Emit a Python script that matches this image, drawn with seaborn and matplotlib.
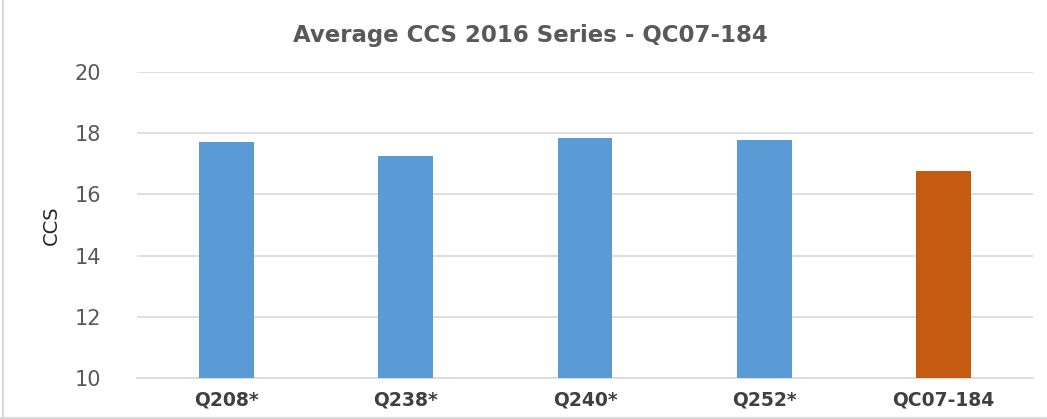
import matplotlib
matplotlib.use("Agg")
import matplotlib.pyplot as plt
import seaborn as sns
import pandas as pd

# values
samples = ['Q208*', 'Q238*', 'Q240*', 'Q252*', 'QC07-184']
ccs = [17.70, 17.26, 17.83, 17.77, 16.76]
bar_colors = ['#5B9BD5', '#5B9BD5', '#5B9BD5', '#5B9BD5', '#C55A11']
yticks = [10, 12, 14, 16, 18, 20]

df = pd.DataFrame({'Sample': samples, 'CCS': ccs})

sns.set_style('white')
plt.rcParams['font.family'] = ['DejaVu Sans']

fig = plt.figure(figsize=(10.47, 4.19), dpi=100)
ax = fig.add_axes([0.1309, 0.0979, 0.8557, 0.7303])

sns.barplot(data=df, x='Sample', y='CCS', hue='Sample',
            palette=dict(zip(samples, bar_colors)), width=0.306,
            saturation=1, legend=False, ax=ax, zorder=3, edgecolor='none')

ax.set_ylim(10, 20)
ax.set_yticks(yticks)
ax.set_xlim(-0.5, len(samples) - 0.5)
ax.yaxis.grid(True, color='#D9D9D9', linewidth=1.2, zorder=0)
ax.set_axisbelow(True)
for s in ['top', 'right', 'left']:
    ax.spines[s].set_visible(False)
ax.spines['bottom'].set_color('#D9D9D9')
ax.spines['bottom'].set_linewidth(1.2)

ax.tick_params(axis='both', length=0)
ax.tick_params(axis='y', labelsize=15, labelcolor='#595959', pad=26)
ax.tick_params(axis='x', labelsize=13.5, labelcolor='#404040', pad=9)
for lbl in ax.get_xticklabels():
    lbl.set_fontweight('bold')

ax.set_xlabel('')
ax.set_ylabel('CCS', fontsize=14, color='#262626', labelpad=10)

fig.text(0.507, 0.916, 'Average CCS 2016 Series - QC07-184', ha='center',
         va='center', fontsize=16.5, fontweight='bold', color='#595959')

# light chart frame on the left and bottom
fig.add_artist(plt.Line2D([0.003, 0.003], [0, 1], color='#D9D9D9', lw=1.5))
fig.add_artist(plt.Line2D([0, 1], [0.003, 0.003], color='#D9D9D9', lw=1.5))

fig.savefig('out.png', dpi=100)
